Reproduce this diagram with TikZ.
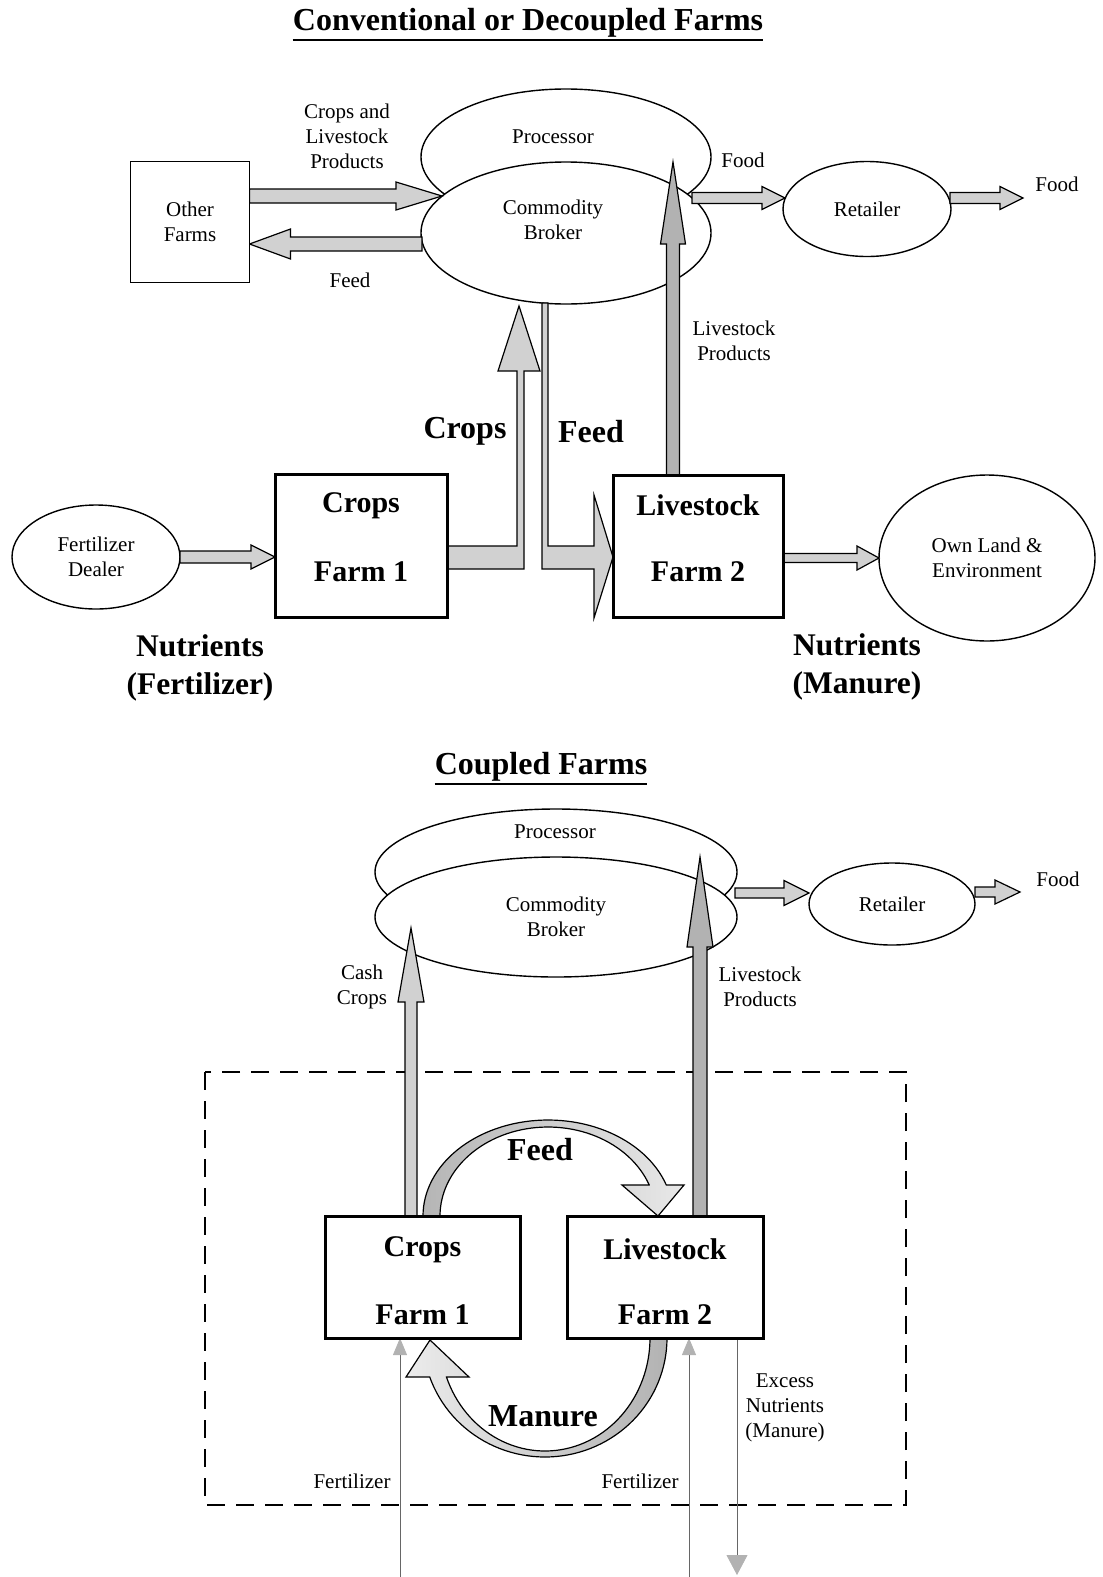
\documentclass[tikz,border=0pt]{standalone}
\usepackage{fontspec}
\setmainfont{Liberation Serif}
\usetikzlibrary{shapes.geometric,calc,arrows.meta}
\definecolor{flowlight}{gray}{0.82}
\definecolor{flowmid}{gray}{0.70}
\definecolor{thinline}{gray}{0.40}
\pgfdeclarelayer{back}
\pgfdeclarelayer{mid}
\pgfsetlayers{back,mid,main}

% broad flow arrow: [options]{from}{to}{shaft half width}{head half width}{head length}
\newcommand\fatarrow[6][]{%
  \coordinate (fa-b) at ($(#3)!#6!(#2)$);
  \path[flow,#1] ($(#2)!#4!90:(#3)$) -- ($(fa-b)!#4!90:(#3)$) -- ($(fa-b)!#5!90:(#3)$)
    -- (#3) -- ($(fa-b)!#5!-90:(#3)$) -- ($(fa-b)!#4!-90:(#3)$) -- ($(#2)!#4!-90:(#3)$) -- cycle;}

\begin{document}
\begin{tikzpicture}[x=1pt,y=-1pt,
  lbl/.style={font=\fontsize{21}{25}\selectfont, align=center, inner sep=0},
  big/.style={font=\fontsize{30}{37}\selectfont\bfseries, align=center, inner sep=0},
  bigger/.style={font=\fontsize{32}{38}\selectfont\bfseries, align=center, inner sep=0},
  heading/.style={font=\fontsize{32}{38}\selectfont\bfseries, inner sep=0},
  oval/.style={draw, ellipse, line width=1.4pt, fill=white, inner sep=0, outer sep=0},
  farm/.style={draw, line width=3pt, fill=white, inner sep=0, outer sep=0},
  plainbox/.style={draw, line width=1.4pt, fill=white, inner sep=0, outer sep=0, align=center,
    font=\fontsize{21}{25}\selectfont},
  flow/.style={draw=black, line width=1.2pt, fill=flowlight, line join=miter},
  thin flow/.style={draw=thinline, line width=0.8pt},
]
\useasboundingbox (0,0) rectangle (1103,1577);

%% ---------------- Conventional or decoupled farms ----------------
\node[heading] (t1) at (528,23) {Conventional or Decoupled Farms};
\draw[line width=2.2pt] ([yshift=-2pt]t1.south west) -- ([yshift=-2pt]t1.south east);

\begin{pgfonlayer}{back}
  \node[oval, minimum width=290pt, minimum height=136pt,
        label={[lbl,xshift=-13pt,yshift=20pt]center:Processor}] (proc) at (566,157) {};
  \node[oval, minimum width=290pt, minimum height=142pt,
        label={[lbl,xshift=-13pt,yshift=13pt]center:Commodity\\Broker}] (brk) at (566,233) {};
  \node[oval, minimum width=168pt, minimum height=95pt, font=\fontsize{21}{25}\selectfont] (ret) at (867,209) {Retailer};
  \node[oval, minimum width=168pt, minimum height=104pt, lbl] (fdl) at (96,557) {Fertilizer\\Dealer};
  \node[oval, minimum width=216pt, minimum height=166pt, lbl] (own) at (987,558) {Own Land \&\\Environment};
\end{pgfonlayer}

\node[plainbox, minimum width=119pt, minimum height=121pt] (oth) at (190,222) {Other\\Farms};
\node[farm, minimum width=172pt, minimum height=143pt,
      label={[big,yshift=40pt]center:Crops}, label={[big,yshift=-26pt]center:Farm 1}] (f1) at (361,545.5) {};
\node[farm, minimum width=170pt, minimum height=142pt,
      label={[big,yshift=41pt]center:Livestock}, label={[big,yshift=-26pt]center:Farm 2}] (f2) at (698,546) {};

\coordinate (clS) at (oth.east |- 0,196);
\coordinate (clT) at (442,196);
\coordinate (fbS) at (422,244);
\coordinate (fbT) at (oth.east |- 0,244);
\coordinate (fdS) at (692,198);
\coordinate (fdT) at (785,198);
\coordinate (foS) at (950,198);
\coordinate (foT) at (1023,198);
\coordinate (lsS) at (f2.north -| 673,0);
\coordinate (lsT) at (673,162);

\begin{pgfonlayer}{mid}
  \fatarrow{clS}{clT}{7pt}{14pt}{46pt}
  \fatarrow{fbS}{fbT}{7pt}{15pt}{41pt}
  \fatarrow{fdS}{fdT}{5.5pt}{11.5pt}{23pt}
  \fatarrow{foS}{foT}{5.5pt}{11.5pt}{23pt}
  \fatarrow[fill=flowmid]{lsS}{lsT}{6.5pt}{12.5pt}{82pt}
  \fatarrow{fdl.east}{f1.west |- fdl.east}{6pt}{12pt}{24pt}
  \fatarrow{f2.east |- own.west}{own.west}{4.5pt}{12pt}{22pt}
  % crops leave farm 1 and rise to the broker
  \path[flow] (f1.east |- 0,546) -- (517,546) -- (517,371) -- (498,371) -- (519,306)
    -- (540,371) -- (524,371) -- (524,569) -- (f1.east |- 0,569) -- cycle;
  % feed drops from the broker into farm 2
  \path[flow] (542,303) -- (548,303) -- (548,546) -- (594,546) -- (594,495)
    -- (f2.west |- 0,557) -- (594,618) -- (594,569) -- (542,569) -- cycle;
\end{pgfonlayer}

\node[lbl] (lclp) at (347,136) {Crops and\\Livestock\\Products};
\node[lbl] (lfeed) at (350,280) {Feed};
\node[lbl] (lfood1) at (743,160) {Food};
\node[lbl] (lfood2) at (1057,184) {Food};
\node[lbl] (llp) at (734,341) {Livestock\\Products};
\node[bigger] (lcrops) at (465,431) {Crops};
\node[bigger] (lfeedb) at (591,432) {Feed};
\node[big, font=\fontsize{31.5}{38}\selectfont\bfseries] (lnf) at (200,668) {Nutrients\\(Fertilizer)};
\node[big, font=\fontsize{31.5}{38}\selectfont\bfseries] (lnm) at (857,667) {Nutrients\\(Manure)};

%% ---------------- Coupled farms ----------------
\node[heading] (t2) at (541,767) {Coupled Farms};
\draw[line width=2.2pt] ([yshift=-2pt]t2.south west) -- ([yshift=-2pt]t2.south east);

\begin{pgfonlayer}{back}
  \draw[line width=2.6pt, dash pattern=on 18pt off 11pt] (205,1072) rectangle (906,1505);
  \node[oval, minimum width=362pt, minimum height=126pt,
        label={[lbl,xshift=-1pt,yshift=40pt]center:Processor}] (proc2) at (556,872) {};
  \node[oval, minimum width=362pt, minimum height=120pt, lbl] (brk2) at (556,917) {Commodity\\Broker};
  \node[oval, minimum width=166pt, minimum height=82pt, font=\fontsize{21}{25}\selectfont] (ret2) at (892,904) {Retailer};
\end{pgfonlayer}

\node[farm, minimum width=195pt, minimum height=122pt,
      label={[big,yshift=27pt]center:Crops}, label={[big,yshift=-38pt]center:Farm 1}] (f1b) at (422.5,1277) {};
\node[farm, minimum width=196pt, minimum height=122pt,
      label={[big,yshift=28pt]center:Livestock}, label={[big,yshift=-38pt]center:Farm 2}] (f2b) at (665,1277) {};

\coordinate (rbS) at (735,893);
\coordinate (rbT) at (ret2.west |- rbS);
\coordinate (rfS) at (ret2.east |- 0,892);
\coordinate (rfT) at (1020,892);
\coordinate (ccS) at (f1b.north -| 411,0);
\coordinate (ccT) at (411,928);
\coordinate (lpS) at (f2b.north -| 700,0);
\coordinate (lpT) at (700,857);
\coordinate (fertL) at (400,1577);
\coordinate (fertR) at (689,1577);
\coordinate (excess) at (737,1575);

\begin{pgfonlayer}{mid}
  \fatarrow{rbS}{rbT}{5pt}{12.5pt}{25pt}
  \fatarrow{rfS}{rfT}{5pt}{12pt}{25pt}
  \fatarrow{ccS}{ccT}{6pt}{13pt}{74pt}
  \fatarrow[fill=flowmid]{lpS}{lpT}{7pt}{13pt}{90pt}
  % feed loop from farm 1 over to farm 2
  \path[flow, left color=gray!58, right color=gray!18]
    plot[domain=180:18.8, samples=60] ({548+125*cos(\x)}, {1216-96*sin(\x)})
    -- (684,1185) -- (658,1216) -- (622,1185) -- (649.2,1185)
    -- plot[domain=20.4:180, samples=60] ({548+108*cos(\x)}, {1216-89*sin(\x)}) -- cycle;
  % manure loop from farm 2 back to farm 1
  \path[flow, left color=gray!15, right color=gray!60]
    plot[domain=0:160.9, samples=60] ({545+122*cos(\x)}, {1338+119*sin(\x)})
    -- (406,1377) -- (430,1340) -- (469,1377) -- (446.5,1377)
    -- plot[domain=159.8:0, samples=60] ({545+105*cos(\x)}, {1338+113*sin(\x)}) -- cycle;
  \draw[thin flow, -{Triangle[width=14pt,length=17pt,color=gray!60]}] (fertL) -- (fertL |- f1b.south);
  \draw[thin flow, -{Triangle[width=14pt,length=17pt,color=gray!60]}] (fertR) -- (fertR |- f2b.south);
  \draw[thin flow, -{Triangle[width=21pt,length=20pt,color=gray!60]}] (f2b.south -| excess) -- (excess);
\end{pgfonlayer}

\node[lbl] (lfood3) at (1058,879) {Food};
\node[lbl] (lcash) at (362,987) {Cash\\Crops};
\node[lbl] (llp2) at (760,987) {Livestock\\Products};
\node[bigger] (lfeedc) at (540,1150) {Feed};
\node[bigger] (lman) at (543,1416) {Manure};
\node[lbl] (lfl) at (352,1481) {Fertilizer};
\node[lbl] (lfr) at (640,1481) {Fertilizer};
\node[lbl] (lex) at (785,1408) {Excess\\Nutrients\\(Manure)};
\end{tikzpicture}
\end{document}
